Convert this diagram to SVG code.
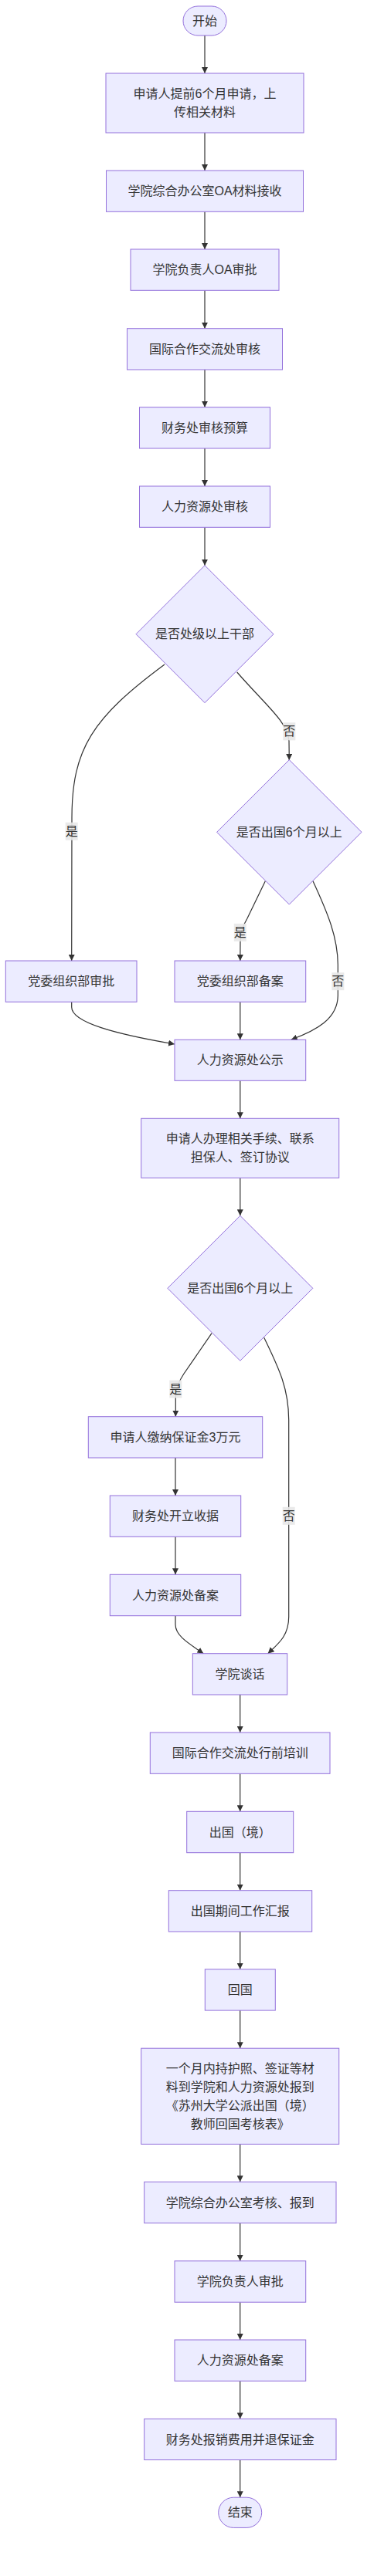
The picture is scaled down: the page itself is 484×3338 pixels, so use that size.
<svg xmlns="http://www.w3.org/2000/svg" width="484" height="3338" viewBox="0 0 484 3338">
<style>
.n rect,.n polygon{fill:#ECECFF;stroke:#9370DB;stroke-width:1}
.n text,.lb text{font-family:"Liberation Sans","Noto Sans CJK SC",sans-serif;font-size:16px;fill:#333;text-anchor:middle;dominant-baseline:central}
.e path{fill:none;stroke:#333;stroke-width:1.2;marker-end:url(#ah)}
.lb rect{fill:#e8e8e8;opacity:0.9}
</style>
<defs>
<marker id="ah" viewBox="0 0 10 10" refX="10" refY="5" markerUnits="userSpaceOnUse" markerWidth="8" markerHeight="8" orient="auto">
<path d="M0,0 L10,5 L0,10 z" fill="#333"/>
</marker>
</defs>
<rect width="484" height="3338" fill="#fff"/>
<g id="edges" class="e">
<path d="M265,46 L265,95"/>
<path d="M265,172 L265,221"/>
<path d="M265,274.3 L265,323"/>
<path d="M265,376.3 L265,425.7"/>
<path d="M265,479 L265,527.7"/>
<path d="M265,581 L265,630"/>
<path d="M265,683.3 L265,732.7"/>
<path d="M213,861 C120,930 93,970 93,1060 L92.7,1245"/>
<path d="M306.7,871 C345,915 372,935 374,960 L374.3,985"/>
<path d="M343.3,1141.7 L320,1190 Q311,1205 311,1220 L310.8,1245"/>
<path d="M405,1141.7 C425,1185 437,1215 437.3,1250 L437.3,1290 C437,1320 410,1335 376.7,1347.3"/>
<path d="M92.7,1298.3 L92.7,1305 C92.7,1325 150,1340 226,1353"/>
<path d="M310.8,1298.3 L310.8,1347.3"/>
<path d="M310.8,1400.3 L310.8,1449.3"/>
<path d="M310.8,1526.3 L310.8,1575.3"/>
<path d="M274,1727.7 L238,1780 Q228,1795 227.3,1810 L227.3,1835.7"/>
<path d="M341.7,1733.3 C362,1775 373.5,1800 373.7,1840 L373.7,2095 C373.7,2120 360,2130 346.7,2142.7"/>
<path d="M227,1889 L227,1938"/>
<path d="M227,1991.3 L227,2040.3"/>
<path d="M227,2093.7 L227,2105 C227,2120 245,2130 263.3,2142.7"/>
<path d="M310.7,2196 L310.7,2245"/>
<path d="M310.7,2298.3 L310.7,2347.3"/>
<path d="M310.7,2400.7 L310.7,2449.7"/>
<path d="M310.7,2503 L310.7,2551.8"/>
<path d="M310.7,2605.1 L310.7,2654.2"/>
<path d="M310.7,2778.4 L310.7,2827.3"/>
<path d="M310.7,2880.7 L310.7,2929.8"/>
<path d="M310.7,2983.2 L310.7,3032"/>
<path d="M310.7,3085.3 L310.7,3134.4"/>
<path d="M310.7,3187.5 L310.7,3236.2"/>
</g>
<g id="edge-labels" class="lb">
<g><rect x="84.7" y="1065.7" width="16" height="23"/><text x="92.7" y="1077.2">是</text></g>
<g><rect x="366.3" y="936.3" width="16" height="23"/><text x="374.3" y="947.8">否</text></g>
<g><rect x="302.8" y="1196.8" width="16" height="23"/><text x="310.8" y="1208.3">是</text></g>
<g><rect x="429.3" y="1260.2" width="16" height="23"/><text x="437.3" y="1271.7">否</text></g>
<g><rect x="219.3" y="1788.5" width="16" height="23"/><text x="227.3" y="1800">是</text></g>
<g><rect x="365.7" y="1952.8" width="16" height="23"/><text x="373.7" y="1964.3">否</text></g>
</g>
<g id="start" class="n"><rect x="237" y="8" width="56" height="38" rx="19"/><text x="265" y="27">开始</text></g>
<g id="a1" class="n"><rect x="137" y="95" width="256" height="77"/><text x="265" y="121.5">申请人提前6个月申请，上</text><text x="265" y="145.5">传相关材料</text></g>
<g id="a2" class="n"><rect x="137.5" y="221" width="255" height="53.3"/><text x="265" y="247.7">学院综合办公室OA材料接收</text></g>
<g id="a3" class="n"><rect x="169" y="323" width="192" height="53.3"/><text x="265" y="349.7">学院负责人OA审批</text></g>
<g id="a4" class="n"><rect x="164.5" y="425.7" width="201" height="53.3"/><text x="265" y="452.3">国际合作交流处审核</text></g>
<g id="a5" class="n"><rect x="180.5" y="527.7" width="169" height="53.3"/><text x="265" y="554.3">财务处审核预算</text></g>
<g id="a6" class="n"><rect x="180.5" y="630" width="169" height="53.3"/><text x="265" y="656.7">人力资源处审核</text></g>
<g id="d1" class="n"><polygon points="265,732.7 354,821.7 265,910.7 176,821.7"/><text x="265" y="821.7">是否处级以上干部</text></g>
<g id="d2" class="n"><polygon points="374.3,984.6 468,1078.3 374.3,1172 280.6,1078.3"/><text x="374.3" y="1078.3">是否出国6个月以上</text></g>
<g id="b1" class="n"><rect x="7.3" y="1245" width="169.7" height="53.3"/><text x="92.2" y="1271.7">党委组织部审批</text></g>
<g id="b2" class="n"><rect x="226" y="1245" width="169.7" height="53.3"/><text x="310.8" y="1271.7">党委组织部备案</text></g>
<g id="c1" class="n"><rect x="226" y="1347.3" width="169.7" height="53"/><text x="310.8" y="1373.8">人力资源处公示</text></g>
<g id="c2" class="n"><rect x="182.7" y="1449.3" width="256" height="77"/><text x="310.7" y="1475.8">申请人办理相关手续、联系</text><text x="310.7" y="1499.8">担保人、签订协议</text></g>
<g id="d3" class="n"><polygon points="310.8,1575.3 404.8,1669.3 310.8,1763.3 216.8,1669.3"/><text x="310.8" y="1669.3">是否出国6个月以上</text></g>
<g id="e1" class="n"><rect x="114.3" y="1835.7" width="225.4" height="53.3"/><text x="227" y="1862.3">申请人缴纳保证金3万元</text></g>
<g id="e2" class="n"><rect x="142.3" y="1938" width="169.4" height="53.3"/><text x="227" y="1964.7">财务处开立收据</text></g>
<g id="e3" class="n"><rect x="142.3" y="2040.3" width="169.4" height="53.4"/><text x="227" y="2067">人力资源处备案</text></g>
<g id="f1" class="n"><rect x="249.3" y="2142.7" width="122.4" height="53.3"/><text x="310.5" y="2169.3">学院谈话</text></g>
<g id="f2" class="n"><rect x="194.3" y="2245" width="232.7" height="53.3"/><text x="310.7" y="2271.7">国际合作交流处行前培训</text></g>
<g id="f3" class="n"><rect x="241.7" y="2347.3" width="138" height="53.4"/><text x="310.7" y="2374">出国（境）</text></g>
<g id="f4" class="n"><rect x="218.3" y="2449.7" width="185.4" height="53.3"/><text x="310.7" y="2476.3">出国期间工作汇报</text></g>
<g id="f5" class="n"><rect x="265.3" y="2551.8" width="91" height="53.3"/><text x="310.8" y="2578.5">回国</text></g>
<g id="f6" class="n"><rect x="182.7" y="2654.2" width="256" height="124.2"/><text x="310.7" y="2680.3">一个月内持护照、签证等材</text><text x="310.7" y="2704.3">料到学院和人力资源处报到</text><text x="310.7" y="2728.3">《苏州大学公派出国（境）</text><text x="310.7" y="2752.3">教师回国考核表》</text></g>
<g id="f7" class="n"><rect x="186.7" y="2827.3" width="248.3" height="53.4"/><text x="310.8" y="2854">学院综合办公室考核、报到</text></g>
<g id="f8" class="n"><rect x="226" y="2929.8" width="169.7" height="53.4"/><text x="310.8" y="2956.5">学院负责人审批</text></g>
<g id="f9" class="n"><rect x="226" y="3032" width="169.7" height="53.3"/><text x="310.8" y="3058.7">人力资源处备案</text></g>
<g id="f10" class="n"><rect x="186.7" y="3134.4" width="248.3" height="53.1"/><text x="310.8" y="3161">财务处报销费用并退保证金</text></g>
<g id="end" class="n"><rect x="282.7" y="3236.2" width="56" height="39.2" rx="19.6"/><text x="310.7" y="3255.8">结束</text></g>
</svg>
